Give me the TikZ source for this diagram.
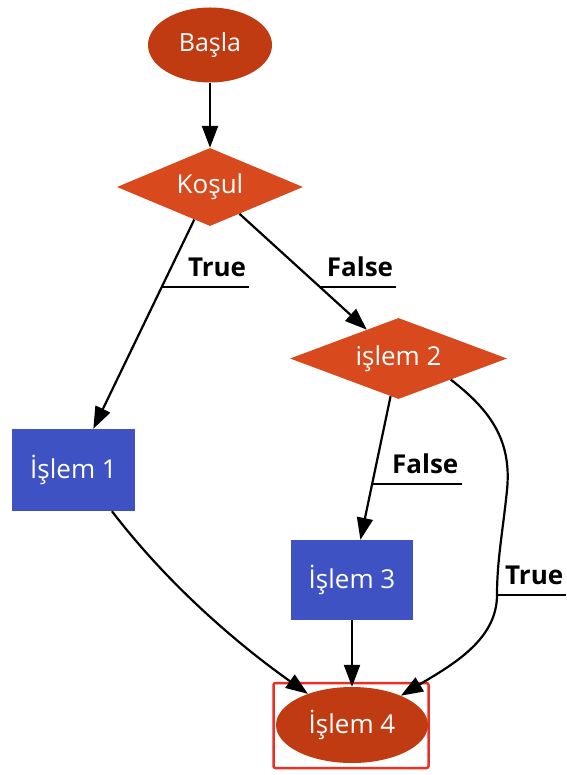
\documentclass[tikz,border=0pt]{standalone}
\usepackage{fontspec}
\setmainfont{Open Sans}
\usetikzlibrary{shapes.geometric,arrows.meta,calc}
\definecolor{darkor}{RGB}{192,58,18}
\definecolor{lightor}{RGB}{216,74,30}
\definecolor{boxblue}{RGB}{63,82,196}
\definecolor{selred}{RGB}{232,48,36}
\tikzset{
  every node/.style={font=\fontsize{26}{30}\selectfont},
  ovalnode/.style={ellipse, fill=darkor, text=white, inner sep=0pt},
  decnode/.style={diamond, shape aspect=2.6, fill=lightor, text=white, inner sep=0pt},
  procnode/.style={rectangle, fill=boxblue, text=white, inner sep=0pt},
  lbl/.style={font=\fontsize{26}{30}\selectfont\bfseries, text=black, align=right,
    inner xsep=3pt, inner ysep=0pt, text height=19pt, text depth=10pt, anchor=south west},
  conn/.style={line width=2.2pt, -{Triangle[length=22pt,width=16pt]}},
  uline/.style={line width=2pt}
}
\begin{document}
\begin{tikzpicture}[x=1pt,y=-1pt]
\useasboundingbox[fill=white] (0,0) rectangle (566,775);
\node[ovalnode, minimum width=124pt, minimum height=75pt, font=\fontsize{25}{30}\selectfont] (b) at (210,45) {Başla};
\node[decnode, minimum width=186pt, minimum height=78pt] (k) at (210,187) {Koşul};
\node[decnode, minimum width=217pt, minimum height=81pt] (i2) at (398.5,358.5) {işlem 2};
\node[procnode, minimum width=123pt, minimum height=82pt] (i1) at (73.5,470) {İşlem 1};
\node[procnode, minimum width=122pt, minimum height=80pt] (i3) at (352,580) {İşlem 3};
\node[draw=selred, line width=2.5pt, rounded corners=2pt, minimum width=155pt, minimum height=85pt] (sel) at (351,725.5) {};
\node[ovalnode, minimum width=152pt, minimum height=76pt] (i4) at (352,725) {İşlem 4};

\draw[conn] (b) -- (k);
\draw[conn] (k) -- (i1);
\draw[conn] (k) -- (i2);
\draw[conn] (i2) -- (i3);
\draw[conn] (i3) -- (i4);
\draw[conn] (i1.-47) .. controls (180,600) and (260,660) .. (i4);
\draw[conn] (i2.-22) .. controls (490,410) and (512,440) .. (507,490)
  .. controls (503,530) and (497,560) .. (497,595) coordinate (tc)
  .. controls (497,640) and (452,665) .. (i4);

\node[lbl, text width=81pt] (l1) at ($(k)!0.353!(i1)$) {True};
\node[lbl, text width=70pt] (l2) at ($(k)!0.583!(i2)$) {False};
\node[lbl, text width=83pt] (l3) at ($(i2)!0.567!(i3)$) {False};
\node[lbl, text width=63pt] (l4) at (tc) {True};
\foreach \n in {l1,l2,l3,l4} \draw[uline] (\n.south west) -- (\n.south east);
\end{tikzpicture}
\end{document}
